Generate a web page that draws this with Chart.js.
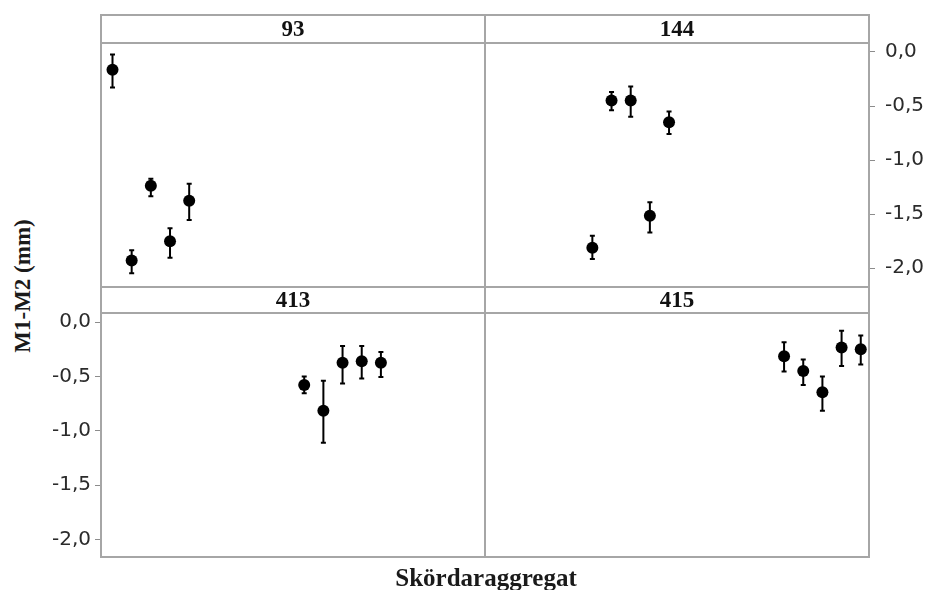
<!DOCTYPE html>
<html>
<head>
<meta charset="utf-8">
<script src="https://cdn.jsdelivr.net/npm/chart.js@4/dist/chart.umd.min.js"></script>
<style>
  html, body { margin: 0; padding: 0; background: #ffffff; }
  #wrap { position: relative; width: 928px; height: 590px; overflow: hidden; background: #ffffff; }
  canvas { position: absolute; }
  .ln { position: absolute; background: #a6a6a6; }
  .hdr { position: absolute; font-family: "Liberation Serif", "Times New Roman", serif; font-weight: bold;
         font-size: 23px; color: #111; text-align: center; line-height: 1; }
  .ttl { position: absolute; font-family: "Liberation Serif", "Times New Roman", serif; font-weight: bold; color: #1a1a1a; white-space: nowrap; }
</style>
</head>
<body>
<div id="wrap">
  <canvas id="c93" width="384" height="244" style="left:101px;top:43px;"></canvas>
  <canvas id="c144" width="443" height="284" style="left:485px;top:23px;"></canvas>
  <canvas id="c413" width="445" height="284" style="left:40px;top:293px;"></canvas>
  <canvas id="c415" width="384" height="244" style="left:485px;top:313px;"></canvas>

  <!-- panel frame -->
  <div class="ln" style="left:100px;top:14px;width:770px;height:2px;"></div>
  <div class="ln" style="left:100px;top:556px;width:770px;height:2px;"></div>
  <div class="ln" style="left:100px;top:14px;width:2px;height:544px;"></div>
  <div class="ln" style="left:868px;top:14px;width:2px;height:544px;"></div>
  <div class="ln" style="left:484px;top:14px;width:2px;height:544px;"></div>
  <div class="ln" style="left:100px;top:42px;width:770px;height:2px;"></div>
  <div class="ln" style="left:100px;top:286px;width:770px;height:2px;"></div>
  <div class="ln" style="left:100px;top:312px;width:770px;height:2px;"></div>

  <div class="hdr" id="h0" style="left:101px;top:17px;width:384px;"></div>
  <div class="hdr" id="h1" style="left:485px;top:17px;width:384px;"></div>
  <div class="hdr" id="h2" style="left:101px;top:288px;width:384px;"></div>
  <div class="hdr" id="h3" style="left:485px;top:288px;width:384px;"></div>

  <div class="ttl" id="ytitle" style="font-size:23px;left:23px;top:286px;transform:translate(-50%,-50%) rotate(-90deg);"></div>
  <div class="ttl" id="xtitle" style="font-size:25px;left:486px;top:578px;transform:translate(-50%,-50%);"></div>
</div>
<script>
// ---- data ----
const panelLabels = ['93', '144', '413', '415'];
const yAxisTitle = 'M1-M2 (mm)';
const xAxisTitle = 'Skördaraggregat';
const yTickValues = [0, -0.5, -1, -1.5, -2];
const yTickLabels = ['0,0', '-0,5', '-1,0', '-1,5', '-2,0'];

const x93  = [1, 2, 3, 4, 5];
const mean93  = [-0.18, -1.915, -1.235, -1.74, -1.37];
const lower93 = [-0.34, -2.03, -1.33, -1.89, -1.545];
const upper93 = [-0.04, -1.82, -1.17, -1.62, -1.215];

const x144 = [6, 7, 8, 9, 10];
const mean144  = [-1.81, -0.45, -0.45, -1.515, -0.65];
const lower144 = [-1.915, -0.54, -0.60, -1.67, -0.76];
const upper144 = [-1.70, -0.37, -0.32, -1.39, -0.55];

const x413 = [11, 12, 13, 14, 15];
const mean413  = [-0.58, -0.815, -0.375, -0.36, -0.375];
const lower413 = [-0.655, -1.11, -0.565, -0.52, -0.505];
const upper413 = [-0.50, -0.54, -0.22, -0.22, -0.275];

const x415 = [16, 17, 18, 19, 20];
const mean415  = [-0.315, -0.45, -0.645, -0.235, -0.25];
const lower415 = [-0.455, -0.58, -0.815, -0.405, -0.39];
const upper415 = [-0.185, -0.345, -0.50, -0.08, -0.125];

// ---- text ----
panelLabels.forEach((t, i) => { document.getElementById('h' + i).textContent = t; });
document.getElementById('ytitle').textContent = yAxisTitle;
document.getElementById('xtitle').textContent = xAxisTitle;

// ---- error bar plugin ----
const errorBars = {
  id: 'errorBars',
  beforeDatasetsDraw(chart) {
    const ctx = chart.ctx, xs = chart.scales.x, ys = chart.scales.y;
    const { xv, lo, hi } = chart.options.plugins.errorBars;
    ctx.save();
    ctx.strokeStyle = '#000';
    ctx.lineWidth = 2;
    for (let i = 0; i < xv.length; i++) {
      const px = xs.getPixelForValue(xv[i]);
      const pLo = ys.getPixelForValue(lo[i]);
      const pHi = ys.getPixelForValue(hi[i]);
      ctx.beginPath();
      ctx.moveTo(px, pLo); ctx.lineTo(px, pHi);
      ctx.moveTo(px - 2.5, pLo); ctx.lineTo(px + 2.5, pLo);
      ctx.moveTo(px - 2.5, pHi); ctx.lineTo(px + 2.5, pHi);
      ctx.stroke();
    }
    ctx.restore();
  }
};

const X_MIN = 0.4, X_MAX = 20.43;

function makePanel(id, xv, mean, lo, hi, yMin, yMax, axisPos) {
  const showAxis = !!axisPos;
  const pad = showAxis ? 20 : 0;
  new Chart(document.getElementById(id), {
    type: 'scatter',
    data: {
      datasets: [{
        data: xv.map((x, i) => ({ x: x, y: mean[i] })),
        backgroundColor: '#000',
        borderColor: '#000',
        pointRadius: 6,
        pointHoverRadius: 6,
        borderWidth: 0
      }]
    },
    plugins: [errorBars],
    options: {
      responsive: false,
      animation: false,
      devicePixelRatio: 1,
      layout: { padding: { top: pad, bottom: pad, left: 0, right: 0 }, autoPadding: false },
      plugins: {
        legend: { display: false },
        tooltip: { enabled: false },
        errorBars: { xv: xv, lo: lo, hi: hi }
      },
      scales: {
        x: { type: 'linear', min: X_MIN, max: X_MAX, display: false },
        y: {
          type: 'linear', min: yMin, max: yMax,
          display: showAxis,
          position: axisPos || 'left',
          afterBuildTicks(scale) { scale.ticks = yTickValues.map(v => ({ value: v })); },
          afterFit(scale) {
            if (showAxis) scale.width = (axisPos === 'right') ? 59 : 61;
          },
          border: { display: false },
          grid: { drawOnChartArea: false, drawTicks: true, tickLength: 6, color: '#8c8c8c', lineWidth: 1 },
          ticks: {
            font: { family: 'DejaVu Sans', size: 20 },
            color: '#2b2b2b',
            padding: axisPos === 'right' ? 10 : 4,
            callback(value) {
              const k = yTickValues.indexOf(value);
              return k >= 0 ? yTickLabels[k] : '';
            }
          }
        }
      }
    }
  });
}

makePanel('c93',  x93,  mean93,  lower93,  upper93,  -2.155, 0.064, null);
makePanel('c144', x144, mean144, lower144, upper144, -2.155, 0.064, 'right');
makePanel('c413', x413, mean413, lower413, upper413, -2.161, 0.083, 'left');
makePanel('c415', x415, mean415, lower415, upper415, -2.161, 0.083, null);
</script>
</body>
</html>
